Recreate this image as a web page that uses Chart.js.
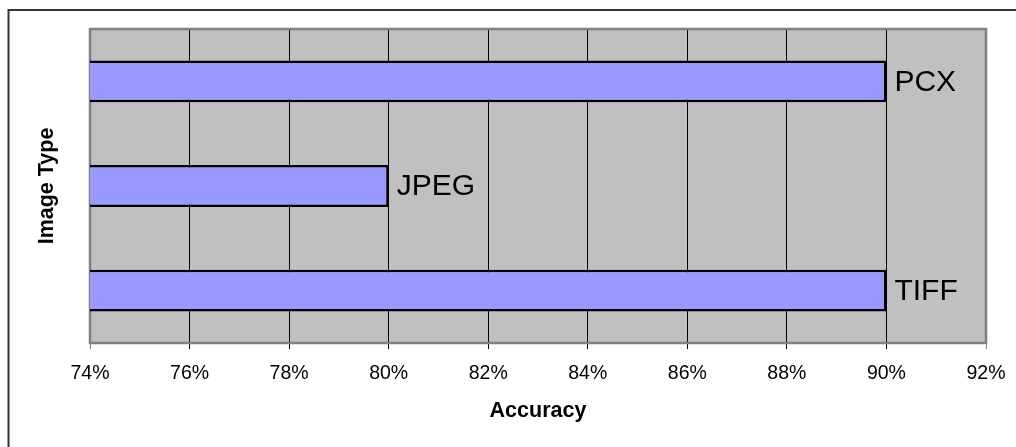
<!DOCTYPE html>
<html>
<head>
<meta charset="utf-8">
<script src="https://cdn.jsdelivr.net/npm/chart.js@4"></script>
<style>
  html, body { margin: 0; padding: 0; background: #fff; }
  #wrap { width: 1016px; height: 447px; position: relative; }
</style>
</head>
<body>
<div id="wrap"><canvas id="c" width="1016" height="447"></canvas></div>
<script>
// Recognition accuracy by image type
const imageTypes = ['PCX', 'JPEG', 'TIFF'];
const accuracy = [90, 80, 90];
const axisMin = 74;
const axisMax = 92;
const axisStep = 2;

const FONT = '"Liberation Sans", Arial, Helvetica, sans-serif';

// Grey plot background and the outer frame lines
const plotFrame = {
  id: 'plotFrame',
  beforeDraw(chart) {
    const { ctx, chartArea: a } = chart;
    ctx.save();
    ctx.fillStyle = '#fff';
    ctx.fillRect(0, 0, chart.width, chart.height);
    ctx.fillStyle = '#C0C0C0';
    ctx.fillRect(a.left, a.top, a.right - a.left, a.bottom - a.top);
    // outer frame: left and top edges
    ctx.strokeStyle = '#333';
    ctx.lineWidth = 2;
    ctx.beginPath();
    ctx.moveTo(8.5, chart.height);
    ctx.lineTo(8.5, 10);
    ctx.lineTo(chart.width, 10);
    ctx.stroke();
    ctx.restore();
  },
  beforeDatasetsDraw(chart) {
    const { ctx, chartArea: a } = chart;
    ctx.save();
    ctx.strokeStyle = '#808080';
    ctx.lineWidth = 2.5;
    ctx.strokeRect(a.left, a.top, a.right - a.left, a.bottom - a.top);
    ctx.restore();
  }
};

// Category names printed just past the end of each bar
const barNames = {
  id: 'barNames',
  afterDatasetsDraw(chart) {
    const { ctx } = chart;
    const meta = chart.getDatasetMeta(0);
    ctx.save();
    ctx.font = '30px ' + FONT;
    ctx.fillStyle = '#000';
    ctx.textAlign = 'left';
    ctx.textBaseline = 'middle';
    meta.data.forEach((bar, i) => {
      ctx.fillText(chart.data.labels[i], bar.x + 8, bar.y + 1);
    });
    ctx.restore();
  }
};

new Chart(document.getElementById('c'), {
  type: 'bar',
  data: {
    labels: imageTypes,
    datasets: [{
      data: accuracy,
      backgroundColor: '#9999FF',
      borderColor: '#000',
      borderWidth: 2.5,
      borderSkipped: false,
      barPercentage: 0.4,
      categoryPercentage: 1.0
    }]
  },
  options: {
    indexAxis: 'y',
    responsive: false,
    animation: false,
    devicePixelRatio: 1,
    layout: { padding: { left: 0, top: 29, right: 30, bottom: 23 } },
    plugins: {
      legend: { display: false },
      tooltip: { enabled: false }
    },
    scales: {
      x: {
        type: 'linear',
        min: axisMin,
        max: axisMax,
        beginAtZero: false,
        afterFit(scale) {
          scale.height = 81;
          scale.paddingLeft = 0;
          scale.paddingRight = 0;
        },
        border: { display: false },
        grid: {
          color: ctx => (ctx.tick && (ctx.tick.value === axisMin || ctx.tick.value === axisMax)) ? 'rgba(0,0,0,0)' : '#000',
          tickColor: ctx => (ctx.tick && (ctx.tick.value === axisMin || ctx.tick.value === axisMax)) ? '#808080' : '#000',
          lineWidth: 1,
          drawTicks: true,
          tickLength: 6
        },
        ticks: {
          stepSize: axisStep,
          padding: 13,
          color: '#000',
          font: { family: FONT, size: 19.5 },
          callback: v => v + '%'
        },
        title: {
          display: true,
          text: 'Accuracy',
          color: '#000',
          padding: 0,
          font: { family: FONT, size: 21.5, weight: 'bold' }
        }
      },
      y: {
        type: 'category',
        afterFit(scale) {
          scale.width = 90;
          scale.paddingTop = 0;
          scale.paddingBottom = 0;
        },
        border: { display: false },
        grid: { display: false },
        ticks: { display: false },
        title: {
          display: true,
          text: 'Image Type',
          color: '#000',
          padding: { top: 34, bottom: 0 },
          font: { family: FONT, size: 21.5, weight: 'bold' }
        }
      }
    }
  },
  plugins: [plotFrame, barNames]
});
</script>
</body>
</html>
